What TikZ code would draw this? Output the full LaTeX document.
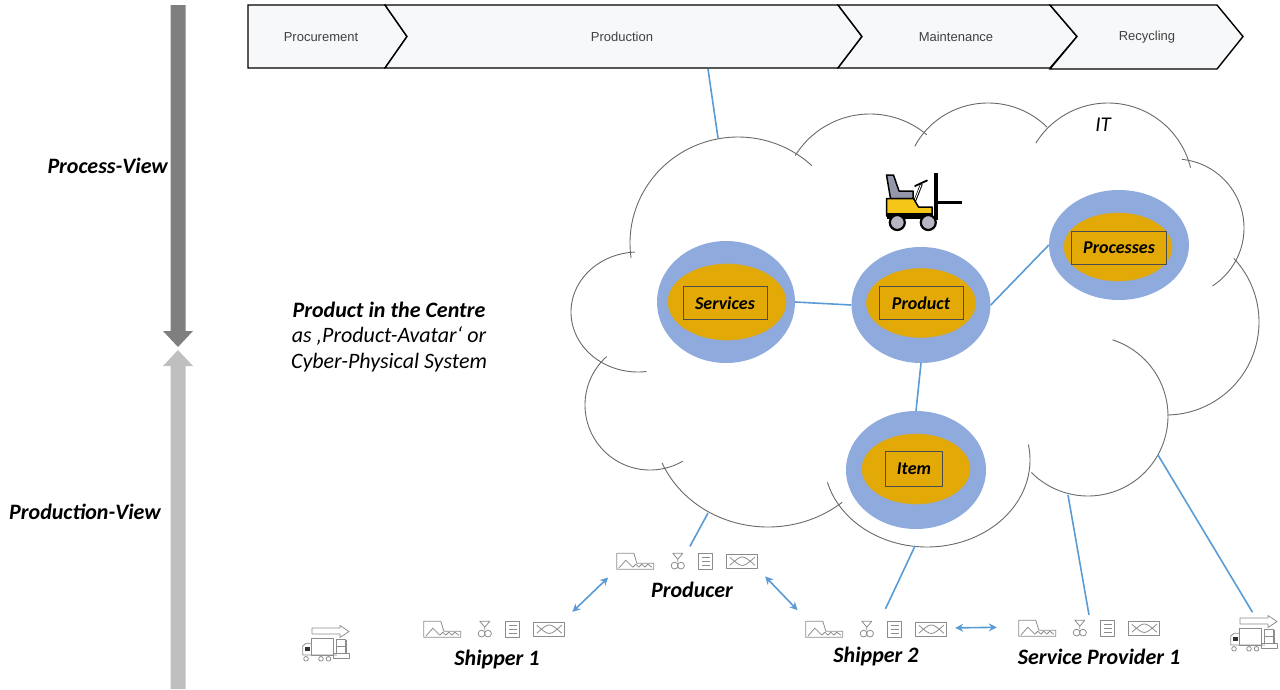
\documentclass[tikz,border=0pt]{standalone}
\usepackage{fontspec}
\setmainfont{Carlito}
\newfontfamily\arialfont{Liberation Sans}
\usetikzlibrary{shapes.geometric,arrows.meta,calc}

\definecolor{linkblue}{RGB}{91,155,213}
\definecolor{ringblue}{RGB}{143,170,220}
\definecolor{coregold}{RGB}{227,169,6}
\definecolor{stagefill}{RGB}{247,248,250}
\definecolor{stagetext}{RGB}{64,64,64}
\definecolor{clouddraw}{RGB}{105,105,105}
\definecolor{icongrey}{RGB}{140,140,140}
\definecolor{darkbar}{RGB}{127,127,127}
\definecolor{lightbar}{RGB}{191,191,191}
\definecolor{seatgrey}{RGB}{150,150,170}
\definecolor{liftyellow}{RGB}{245,197,24}

% one lobe of the cloud: centre x, centre y, x radius, y radius, start and end angle
\newcommand\cloudlobe[6]{%
  \draw[cloudline,shift={(#1,#2)}] plot[domain=#5:#6,samples=90] ({#3*cos(\x)},{#4*sin(\x)});}

\tikzset{
  cloudline/.style={draw=clouddraw,line width=0.9pt,line cap=round,line join=round},
  link/.style={draw=linkblue,line width=1.6pt},
  duplex/.style={link,{Stealth[length=8pt,width=8pt]}-{Stealth[length=8pt,width=8pt]}},
  stage/.style={draw=black,line width=1.4pt,fill=stagefill,line join=miter},
  stagelabel/.style={font=\arialfont\fontsize{13}{15}\selectfont,text=stagetext,inner sep=0pt},
  ring/.style={ellipse,fill=ringblue,inner sep=0pt},
  core/.style={ellipse,fill=coregold,draw=coregold!85!ringblue,line width=0.6pt,inner sep=0pt},
  nodetag/.style={draw=black!70,line width=0.7pt,font=\bfseries\itshape\fontsize{18}{20}\selectfont,inner sep=0pt,minimum height=33pt},
  viewlabel/.style={font=\bfseries\itshape\fontsize{22}{24}\selectfont,inner sep=0pt},
  sitename/.style={font=\bfseries\itshape\fontsize{22}{24}\selectfont,inner sep=0pt},
  iconrow/.style={minimum width=141pt,minimum height=18pt,inner sep=0pt},
  truckbox/.style={minimum width=48pt,minimum height=36pt,inner sep=0pt},
  iconline/.style={draw=icongrey,line width=0.8pt,line join=round},
  site/.pic={
    % factory
    \draw[iconline] (0,0) -- (0,-16) -- (17,-16) -- (20,-6) -- (37,-6) -- (37,0) -- cycle;
    \draw[iconline] (2,-1) -- (9,-9) -- (16,-2) -- (19,-5) -- (22,-2) -- (25,-5) -- (28,-2) -- (31,-5) -- (35,-2);
    % valve
    \draw[iconline] (56,-16) -- (66,-16) -- (61,-10) -- cycle (61,-10) -- (61,-7);
    \draw[iconline] (57.8,-3.6) circle[radius=3.4] (64.2,-3.6) circle[radius=3.4];
    % document
    \draw[iconline] (82,-16) rectangle (96,0) (85,-12) -- (93,-12) (85,-8) -- (93,-8) (85,-4) -- (93,-4);
    % crate
    \draw[iconline] (110,-15) rectangle (141,-1);
    \draw[iconline] (113,-12) .. controls (125.5,-1) .. (138,-12) (113,-4) .. controls (125.5,-15) .. (138,-4);
  },
  truck/.pic={
    \draw[iconline] (-14,-15) -- (14,-15) -- (14,-17.5) -- (23,-11.5) -- (14,-5.5) -- (14,-9) -- (-14,-9) -- cycle;
    \draw[iconline] (-14.3,-4.7) rectangle (7.3,12);
    \draw[iconline] (-14.3,0.3) -- (-20,0.3) -- (-23.3,3) -- (-23.3,12) -- (11,12);
    \fill[black!80] (-21,3.5) rectangle (-16.5,7.5);
    \draw[iconline,fill=white] (-20,15.8) circle[radius=2.3] (-5,15.8) circle[radius=2.3] (2.5,15.8) circle[radius=2.3];
    \draw[iconline] (10,-3.7) rectangle (19,3.7) (10,3.7) rectangle (19,10.3) (7.3,10.3) rectangle (23.3,15.3) (20.7,-3) -- (20.7,10.3);
  },
}

\begin{document}
\begin{tikzpicture}[x=1pt,y=-1pt]
\useasboundingbox (0,0) rectangle (1280,689);

% view arrows on the left
\fill[darkbar] (170.5,5) -- (185.5,5) -- (185.5,331) -- (193,331) -- (178,347) -- (163,331) -- (170.5,331) -- cycle;
\fill[lightbar] (170.5,689) -- (185.5,689) -- (185.5,366) -- (193,366) -- (178,350) -- (163,366) -- (170.5,366) -- cycle;
\node[viewlabel,anchor=east] (processview) at (168,166) {Process-View};
\node[viewlabel,anchor=east] (productionview) at (161,512) {Production-View};

% life-cycle stages
\draw[stage] (248,5) -- (385,5) -- (407,36.5) -- (385,68) -- (248,68) -- cycle;
\draw[stage] (385,5) -- (838,5) -- (862,36.5) -- (838,68) -- (385,68) -- (407,36.5) -- cycle;
\draw[stage] (838,5) -- (1050,5) -- (1077,36.5) -- (1050,68) -- (838,68) -- (862,36.5) -- cycle;
\draw[stage] (1050,5) -- (1217,5) -- (1243,36.5) -- (1217,69) -- (1050,69) -- (1077,36.5) -- cycle;
\node[stagelabel] (procurement) at (321,37) {Procurement};
\node[stagelabel] (production) at (622,37) {Production};
\node[stagelabel] (maintenance) at (956,37) {Maintenance};
\node[stagelabel] (recycling) at (1147,37) {Recycling};

% IT cloud
\cloudlobe{638}{312}{67}{60}{83}{267}
\cloudlobe{738}{243}{108}{106}{172}{313}
\cloudlobe{870}{202}{88}{88}{212}{310}
\cloudlobe{988}{182}{82}{79}{207}{316}
\cloudlobe{1108}{188}{85}{85}{212}{346}
\cloudlobe{1175}{228}{69}{69}{276}{417}
\cloudlobe{1166}{322}{93}{93}{317}{449}
\cloudlobe{1088}{416}{80}{80}{-72}{135}
\cloudlobe{927}{460}{103}{87}{-10}{165}
\cloudlobe{768}{422}{115}{105}{50}{157}
\cloudlobe{650}{405}{65}{65}{60}{228}
\node[font=\itshape\fontsize{21}{24}\selectfont,inner sep=0pt] (itlabel) at (1103,125) {IT};

% forklift
\fill[black] (934,173) rectangle (937.8,219.5);
\fill[black] (937,201.3) rectangle (962,204);
\draw[black,line width=2.6pt] (914,203) -- (921.5,184);
\draw[white,line width=0.9pt] (914.6,201) -- (921.2,184.5);
\draw[black,line width=1.8pt,line cap=round] (915,186) -- (927,180.5);
\draw[black,line width=1.5pt,fill=seatgrey,line join=round] (886.5,175) -- (893.5,175) -- (899,191) -- (913,191) -- (913,198.5) -- (890.5,198.5) -- cycle;
\draw[black,line width=1.5pt,fill=liftyellow,line join=round] (886.5,198.5) -- (913.5,198.5) -- (918.5,207) -- (932,207) -- (932,216) -- (886.5,216) -- cycle;
\fill[black] (886.5,213) rectangle (932,219);
\foreach \cx in {897.3,928.3} {\draw[black,line width=2.2pt,fill=seatgrey!70] (\cx,222.5) circle[radius=7.5];}

% avatar nodes
\node[ring,minimum width=138pt,minimum height=122pt] (services) at (726,302) {};
\node[core,minimum width=118pt,minimum height=76pt] (servicescore) at (727,302) {};
\node[nodetag,minimum width=84pt] (servicestag) at (725,303) {Services};

\node[ring,minimum width=139pt,minimum height=116pt] (product) at (921,305) {};
\node[core,minimum width=109pt,minimum height=69pt] (productcore) at (921,303) {};
\node[nodetag,minimum width=84pt] (producttag) at (921,303) {Product};

\node[ring,minimum width=140pt,minimum height=110pt] (processes) at (1119,245) {};
\node[core,minimum width=108pt,minimum height=68pt] (processescore) at (1118,247) {};
\node[nodetag,minimum width=95pt] (processestag) at (1119,248) {Processes};

\node[ring,minimum width=140pt,minimum height=118pt] (item) at (916,470) {};
\node[core,minimum width=108pt,minimum height=70pt] (itemcore) at (916,469) {};
\node[nodetag,minimum width=57pt,minimum height=35pt] (itemtag) at (914,469) {Item};

\draw[link] (services.east) -- (product.west);
\draw[link] (product.east) -- (processes.west);
\draw[link] (product.south) -- (item.north);

% caption
\node[font=\itshape\fontsize{22}{25.5}\selectfont,align=center,inner sep=0pt] (centrenote) at (389,337)
  {\bfseries Product in the Centre\\ as ‚Product-Avatar‘ or\\ Cyber-Physical System};

% partners
\node[iconrow] (prodicons) at (687.5,560) {};
\pic at (prodicons.south west) {site};
\node[sitename] (producer) at (692,590) {Producer};

\node[iconrow] (ship1icons) at (494.5,628) {};
\pic at (ship1icons.south west) {site};
\node[sitename] (shipper1) at (497,659) {Shipper 1};

\node[iconrow] (ship2icons) at (876.5,628) {};
\pic at (ship2icons.south west) {site};
\node[sitename] (shipper2) at (876,657) {Shipper 2};

\node[iconrow] (sp1icons) at (1089.5,627) {};
\pic at (sp1icons.south west) {site};
\node[sitename] (provider1) at (1099,657) {Service Provider 1};

\node[truckbox] (truckleft) at (326,643) {};
\pic at (truckleft.center) {truck};
\node[truckbox] (truckright) at (1254,633) {};
\pic at (truckright.center) {truck};

% connections
\coordinate (prodfoot) at (708,69);
\coordinate (cloudtop) at (718,138);
\coordinate (cloudsw) at (708,513);
\coordinate (cloudbottom) at (915,546);
\coordinate (cloudse) at (1068,495);
\coordinate (cloudeast) at (1158,455);
\draw[link] (prodfoot) -- (cloudtop);
\draw[link,shorten >=5pt] (cloudsw) -- (prodicons.north);
\draw[link] (cloudbottom) -- ($(ship2icons.north)+(9,-10)$);
\draw[link,shorten >=3pt] (cloudse) -- (sp1icons.north);
\draw[link,shorten >=3pt] (cloudeast) -- (truckright.north);

\draw[duplex,shorten <=12pt,shorten >=10pt] (prodicons.south west) -- (ship1icons.north east);
\draw[duplex,shorten <=10pt,shorten >=12pt] (prodicons.south east) -- (ship2icons.north west);
\draw[duplex,shorten <=8pt,shorten >=22pt] (ship2icons.east) -- (sp1icons.west);
\end{tikzpicture}
\end{document}
